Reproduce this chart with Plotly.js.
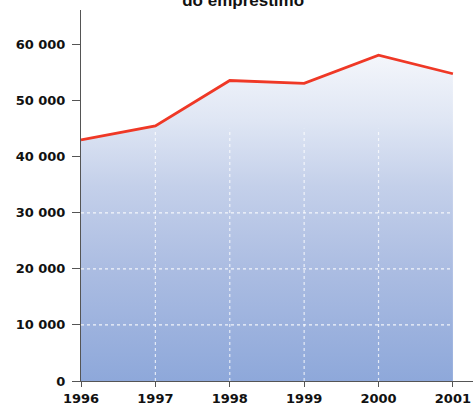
<!DOCTYPE html>
<html>
<head>
<meta charset="utf-8">
<script src="https://cdn.plot.ly/plotly-3.0.1.min.js"></script>
<style>
  html, body { margin: 0; padding: 0; background: #fff; }
  #chart { width: 473px; height: 414px; }
</style>
</head>
<body>
<div id="chart"></div>
<script>
// Valor do empréstimo por ano
const years = [1996, 1997, 1998, 1999, 2000, 2001];
const values = [43000, 45500, 53600, 53100, 58100, 54800];
const yTicks = [0, 10000, 20000, 30000, 40000, 50000, 60000];
const gridY = [10000, 20000, 30000];
const titleText = 'do empréstimo';

const tickFont = { family: 'DejaVu Sans, sans-serif', size: 13, color: '#111', weight: 'bold' };

const area = {
  x: years,
  y: values,
  type: 'scatter',
  mode: 'lines',
  fill: 'tozeroy',
  fillgradient: {
    type: 'vertical',
    start: 0,
    stop: Math.max(...values),
    colorscale: [
      [0, '#8ea8da'],
      [0.35, '#acbde2'],
      [0.6, '#c4d0ea'],
      [0.8, '#dfe6f4'],
      [1, '#f4f6fb']
    ]
  },
  line: { color: '#ef3826', width: 2.8 },
  hoverinfo: 'skip'
};

// white dotted guides drawn over the filled area
const shapes = [];
gridY.forEach(v => shapes.push({
  type: 'line', layer: 'above', xref: 'x', yref: 'y',
  x0: years[0], x1: years[years.length - 1], y0: v, y1: v,
  line: { color: 'rgba(255,255,255,0.85)', width: 1.2, dash: 'dot' }
}));
years.slice(1, -1).forEach(yr => shapes.push({
  type: 'line', layer: 'above', xref: 'x', yref: 'y',
  x0: yr, x1: yr, y0: 0, y1: 45000,
  line: { color: 'rgba(255,255,255,0.75)', width: 1.2, dash: 'dot' }
}));

const layout = {
  width: 473, height: 414,
  margin: { l: 81, r: 0, t: 10, b: 33 },
  paper_bgcolor: '#fff',
  plot_bgcolor: '#fff',
  separators: ', ',
  showlegend: false,
  title: {
    text: titleText,
    font: { family: 'Liberation Sans, Arial, sans-serif', size: 17, color: '#111', weight: 'bold' },
    xref: 'container', x: 0.514, xanchor: 'center',
    yref: 'container', y: 0.986, yanchor: 'bottom'
  },
  xaxis: {
    range: [1996, 2001.27],
    tickvals: years,
    ticktext: years.map(String),
    showgrid: false,
    zeroline: false,
    showline: true,
    linecolor: '#555',
    linewidth: 1,
    ticks: 'outside',
    ticklen: 5,
    tickcolor: '#555',
    tickfont: tickFont,
    fixedrange: true
  },
  yaxis: {
    range: [0, 66170],
    tickvals: yTicks,
    tickformat: ',d',
    showgrid: false,
    zeroline: false,
    showline: true,
    linecolor: '#555',
    linewidth: 1,
    ticks: 'outside',
    ticklen: 8,
    tickcolor: '#555',
    tickfont: tickFont,
    ticklabelstandoff: 4,
    fixedrange: true
  },
  shapes: shapes
};

Plotly.newPlot('chart', [area], layout, { displayModeBar: false, staticPlot: true });
</script>
</body>
</html>
